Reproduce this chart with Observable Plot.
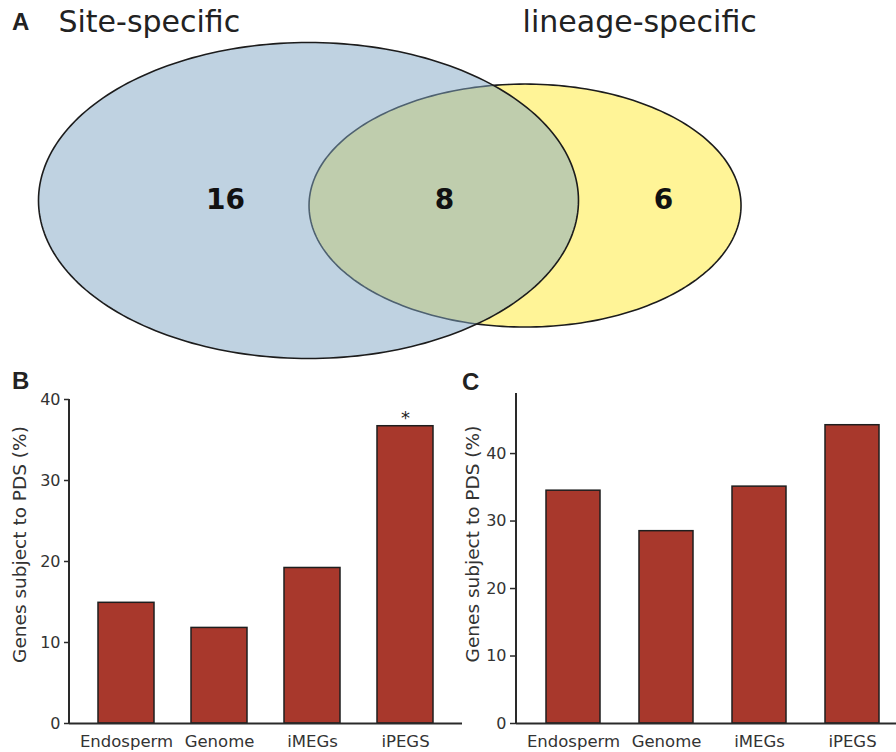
<!DOCTYPE html>
<html>
<head>
<meta charset="utf-8">
<script src="https://cdn.jsdelivr.net/npm/d3@7"></script>
<script src="https://cdn.jsdelivr.net/npm/@observablehq/plot@0.6"></script>
<style>
  html, body { margin: 0; padding: 0; background: #fff; }
  #fig { position: relative; width: 896px; height: 752px; overflow: hidden; background: #fff; }
  .panel { position: absolute; }
  .panel svg { max-width: none !important; }
  .letter { position: absolute; font-family: "Liberation Sans", Arial, sans-serif; font-weight: bold; font-size: 24px; line-height: 24px; color: #222; }
</style>
</head>
<body>
<div id="fig">
  <div id="venn" class="panel" style="left:0;top:0;width:896px"></div>
  <div id="panelB" class="panel" style="left:0;top:380px;width:470px"></div>
  <div id="panelC" class="panel" style="left:450px;top:380px;width:458px"></div>
  <div class="letter" style="left:12px;top:10px">A</div>
  <div class="letter" style="left:12px;top:369px">B</div>
  <div class="letter" style="left:462px;top:370px">C</div>
</div>
<script>
// ---------- data ----------
const vennSets = ["Site-specific", "lineage-specific"];
const vennRegions = ["Site-specific only", "both", "lineage-specific only"];
const vennCounts = [16, 8, 6];

const categories = ["Endosperm", "Genome", "iMEGs", "iPEGS"];
const valuesB = [14.9, 11.8, 19.2, 36.7];
const significanceB = ["", "", "", "*"];
const valuesC = [34.5, 28.5, 35.1, 44.2];
const yTicksB = [0, 10, 20, 30, 40];
const yTicksC = [0, 10, 20, 30, 40];
const yLabel = "Genes subject to PDS (%)";

// ---------- layout (Venn geometry in abstract units) ----------
const vennShapes = [
  {set: vennSets[0], cx: 0, cy: 0, rx: 1, ry: 1, fill: "#7fa5c3", fillOpacity: 0.5},
  {set: vennSets[1], cx: 0.802, cy: -0.032, rx: 0.80, ry: 0.769, fill: "#fff497", fillOpacity: 1}
];
const vennRegionPos = [{u: -0.307, v: 0.0}, {u: 0.504, v: 0.0}, {u: 1.315, v: 0.0}];
const vennTitlePos = [{u: -0.926, v: 1.127}, {u: 0.793, v: 1.127}];

function ellipsePoints(s) {
  const pts = [];
  const n = 240;
  for (let k = 0; k < n; k++) {
    const t = (2 * Math.PI * k) / n;
    pts.push({set: s.set, u: s.cx + s.rx * Math.cos(t), v: s.cy + s.ry * Math.sin(t)});
  }
  return pts;
}

const FONT = "DejaVu Sans, Verdana, sans-serif";

// ---------- Panel A: Venn ----------
const yellow = vennShapes[1], blue = vennShapes[0];
const venn = Plot.plot({
  width: 896, height: 370,
  marginLeft: 0, marginRight: 0, marginTop: 0, marginBottom: 0,
  style: {fontFamily: FONT, background: "transparent", color: "#1a1a1a"},
  x: {domain: [-1.1407, 2.1778], axis: null},
  y: {domain: [-1.0759, 1.2658], axis: null},
  marks: [
    Plot.line(ellipsePoints(yellow), {x: "u", y: "v", curve: "linear-closed", fill: yellow.fill, fillOpacity: yellow.fillOpacity, stroke: "#1c1c1c", strokeWidth: 1.6}),
    Plot.line(ellipsePoints(blue), {x: "u", y: "v", curve: "linear-closed", fill: blue.fill, fillOpacity: blue.fillOpacity, stroke: "#1c1c1c", strokeWidth: 1.6}),
    Plot.text(vennCounts.map((c, i) => ({c, ...vennRegionPos[i]})), {x: "u", y: "v", text: d => String(d.c), fontSize: 28, fontWeight: "bold", fill: "#111"}),
    Plot.text(vennSets.map((s, i) => ({s, ...vennTitlePos[i]})), {x: "u", y: "v", text: "s", textAnchor: "start", fontSize: 30, fill: "#222"})
  ]
});
document.getElementById("venn").appendChild(venn);

// ---------- bar panels ----------
function yAxisLine(index, scales, values, dims) {
  const l = d3.create("svg:line")
    .attr("x1", dims.marginLeft).attr("x2", dims.marginLeft)
    .attr("y1", dims.marginTop).attr("y2", dims.height - dims.marginBottom)
    .attr("stroke", "#2a2a2a").attr("stroke-width", 2);
  return l.node();
}

function barPanel({values, sig, domain, ticks, width, marginLeft, marginRight, marginTop, labelDx, labelDy, paddingOuter, paddingInner, tickSize}) {
  const rows = categories.map((c, i) => ({cat: c, value: values[i], sig: sig ? sig[i] : ""}));
  return Plot.plot({
    width, height: 372,
    marginLeft, marginRight, marginTop, marginBottom: 29,
    style: {fontFamily: FONT, fontSize: "16px", background: "transparent", color: "#333", overflow: "visible", maxWidth: "none"},
    x: {domain: categories, paddingInner, paddingOuter},
    y: {domain},
    marks: [
      Plot.barY(rows, {x: "cat", y: "value", fill: "#a8382c", stroke: "#1e1e1e", strokeWidth: 1.5}),
      Plot.ruleY([0], {stroke: "#2a2a2a", strokeWidth: 2}),
      yAxisLine,
      Plot.axisY({ticks, tickSize, tickPadding: 4, label: null, fontSize: 16, stroke: "#2a2a2a", strokeWidth: 1.5}),
      Plot.axisX({tickSize: 0, tickPadding: 12, label: null, fontSize: 16.5}),
      Plot.text([yLabel], {frameAnchor: "left", text: d => d, rotate: -90, textAnchor: "middle", lineAnchor: "top", dx: labelDx, dy: labelDy, fontSize: 18.5, fill: "#333"}),
      Plot.text(rows.filter(d => d.sig), {x: "cat", y: "value", text: "sig", lineAnchor: "bottom", dy: -2, fontSize: 18, fill: "#222"})
    ]
  });
}

const panelB = barPanel({
  values: valuesB, sig: significanceB, domain: [0, 40], ticks: yTicksB,
  width: 470, marginLeft: 69, marginRight: 8, marginTop: 19,
  labelDx: -57, labelDy: -17, paddingInner: 0.4, paddingOuter: 0.3, tickSize: 5
});
document.getElementById("panelB").appendChild(panelB);

const panelC = barPanel({
  values: valuesC, sig: null, domain: [0, 48.9], ticks: yTicksC,
  width: 458, marginLeft: 66, marginRight: 0, marginTop: 13,
  labelDx: -51, labelDy: -14.5, paddingInner: 0.42, paddingOuter: 0.3, tickSize: 6
});
document.getElementById("panelC").appendChild(panelC);
</script>
</body>
</html>
